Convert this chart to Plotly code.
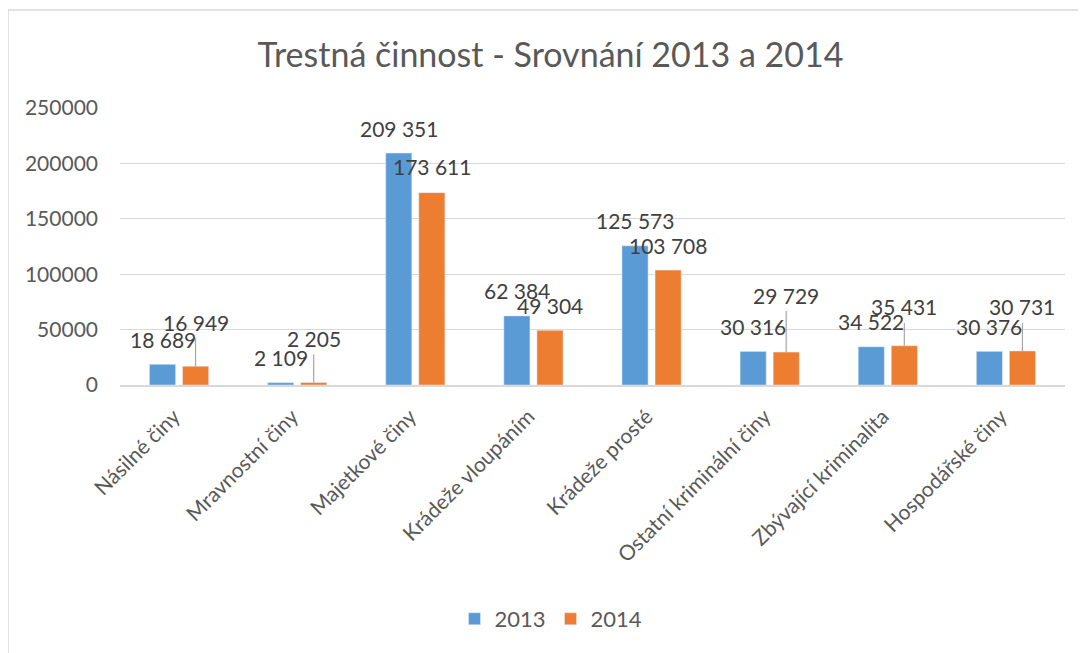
import plotly.graph_objects as go

# data
categories = ["Násilné činy", "Mravnostní činy", "Majetkové činy", "Krádeže vloupáním",
              "Krádeže prosté", "Ostatní kriminální činy", "Zbývající kriminalita", "Hospodářské činy"]
values_2013 = [18689, 2109, 209351, 62384, 125573, 30316, 34522, 30376]
values_2014 = [16949, 2205, 173611, 49304, 103708, 29729, 35431, 30731]
years = ["2013", "2014"]

# label placement (pixels above the bar top), Excel-like manual positions
lift_2013 = [25, 25, 25, 25, 25, 25, 25, 25]
lift_2014 = [44, 44, 26, 25, 25, 57, 39, 44]
leader_2014 = [True, True, False, False, False, True, True, True]

BLUE = "#5B9BD5"
ORANGE = "#ED7D31"
FONT = "Lato"
LBL = dict(size=21, color="#404040", family=FONT)

# the page body adds an 8px offset, so the figure is 8px smaller than the window
W, H = 1078, 645
PL, PR, PT, PB = 112, 21, 100, 268


def fmt(v):
    return f"{v:,}".replace(",", " ")


fig = go.Figure()
fig.add_trace(go.Bar(x=categories, y=values_2013, name=years[0], marker_color=BLUE))
fig.add_trace(go.Bar(x=categories, y=values_2014, name=years[1], marker_color=ORANGE))

annotations = []
for cat, v, lift in zip(categories, values_2013, lift_2013):
    annotations.append(dict(x=cat, y=v, xshift=-16.5, yshift=lift, text=fmt(v), showarrow=False, font=LBL))
for cat, v, lift, lead in zip(categories, values_2014, lift_2014, leader_2014):
    if lead:
        annotations.append(dict(x=cat, y=v, xshift=16.5, ax=0, ay=-lift, text=fmt(v), showarrow=True,
                                arrowhead=0, arrowwidth=1.2, arrowcolor="#A6A6A6", standoff=0,
                                startstandoff=2, font=LBL))
    else:
        annotations.append(dict(x=cat, y=v, xshift=16.5, yshift=lift, text=fmt(v), showarrow=False, font=LBL))

fig.update_layout(
    width=W, height=H,
    margin=dict(l=PL, r=PR, t=PT, b=PB),
    paper_bgcolor="white", plot_bgcolor="white",
    font=dict(family=FONT, color="#595959"),
    title=dict(text="Trestná činnost - Srovnání 2013 a 2014", x=542.5 / W, xref="container",
               y=1 - 47 / H, yref="container", yanchor="middle", xanchor="center",
               font=dict(size=34, color="#595959", family=FONT)),
    barmode="group", bargap=0.44, bargroupgap=0.21,
    legend=dict(orientation="h", xref="container", yref="container", x=543 / W, y=1 - 611 / H,
                xanchor="center", yanchor="middle", font=dict(size=22, color="#595959"),
                itemwidth=30),
    annotations=annotations,
    showlegend=True,
)
fig.update_yaxes(range=[0, 250000], dtick=50000, tickformat="d", showgrid=True, automargin=False,
                 gridcolor="#D9D9D9", gridwidth=1.3, zeroline=False,
                 tickfont=dict(size=21, color="#595959"), ticklabelstandoff=21)
fig.update_xaxes(type="category", showline=True, linecolor="#D9D9D9", linewidth=2, automargin=False,
                 tickangle=-45, tickfont=dict(size=21, color="#595959"), ticklabelstandoff=9,
                 ticklabelshift=-5)

# chart-area border (left and top edges)
ph = H - PT - PB
pw = W - PL - PR
fig.add_shape(type="path", xref="paper", yref="paper",
              path=f"M {-PL / pw} -1.0 L {-PL / pw} {(H - PB - 2) / ph} L 1.1 {(H - PB - 2) / ph}",
              line=dict(color="#D9D9D9", width=1.5))

fig.write_html("out.html")
